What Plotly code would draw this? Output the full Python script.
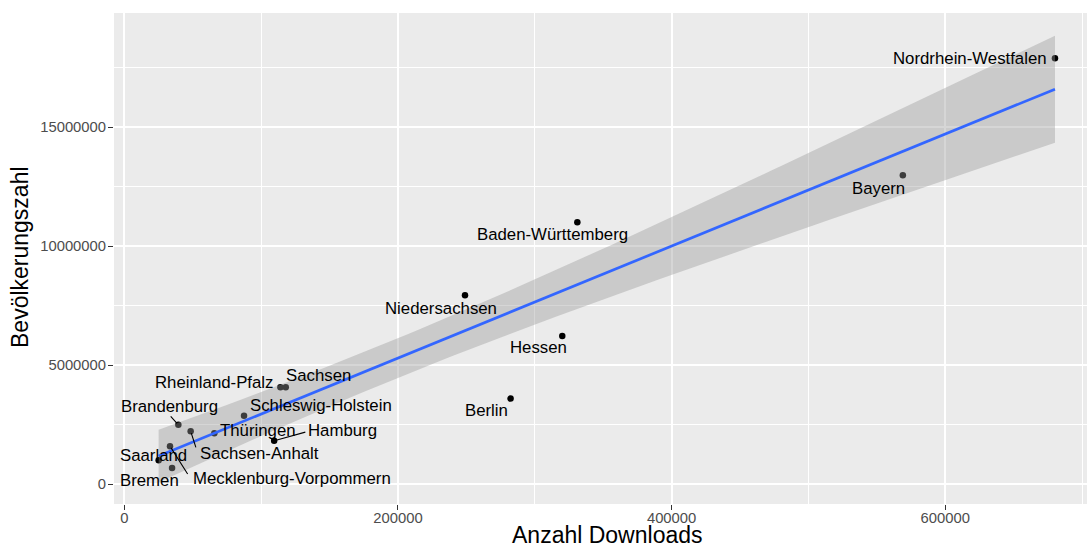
import numpy as np
import plotly.graph_objects as go

# ---- data ----
states = ["Nordrhein-Westfalen", "Bayern", "Baden-Württemberg", "Niedersachsen", "Hessen",
          "Berlin", "Rheinland-Pfalz", "Sachsen", "Schleswig-Holstein", "Brandenburg",
          "Sachsen-Anhalt", "Thüringen", "Hamburg", "Mecklenburg-Vorpommern", "Saarland", "Bremen"]
downloads = [680200, 569000, 331100, 249000, 320100, 282300, 114100, 118000, 87500, 39500,
             48500, 65800, 109500, 33400, 25100, 34900]
population = [17900000, 12980000, 11010000, 7940000, 6230000, 3600000, 4080000, 4080000,
              2880000, 2500000, 2230000, 2140000, 1830000, 1600000, 1010000, 685000]
x_ticks = [0, 200000, 400000, 600000]
y_ticks = [0, 5000000, 10000000, 15000000]

# ---- label placement (pixel offsets of text centre from point; layout only) ----
lab_dx = [-85, -24.5, -24.5, -24.2, -23.8, -24.5, -66.3, 32.5, 77.3, -9.3, 68.8, 43.2, 68.5, 121.7, -4.7, -22.2]
lab_dy = [0.7, 13, 12.7, 13, 11.7, 12.3, -5, -11.3, -10, -18, 22.7, -3.3, -10, 32, -5, 12.7]
# repel segments: pixel offset of segment end from point (None = no segment)
seg_dx = [None, None, None, None, None, None, None, None, None, -9, 5.7, None, 32.7, 18.6, None, None]
seg_dy = [None, None, None, None, None, None, None, None, None, -10, 17.6, None, -9, 29.3, None, None]

# ---- linear model smooth (like geom_smooth(method="lm")) ----
x = np.array(downloads, float)
y = np.array(population, float)
n = len(x)
b1, b0 = np.polyfit(x, y, 1)
resid = y - (b0 + b1 * x)
s = np.sqrt(np.sum(resid ** 2) / (n - 2))
sxx = np.sum((x - x.mean()) ** 2)
t975 = 2.1447866879  # qt(0.975, df=14)
xs = np.linspace(x.min(), x.max(), 80)
fit = b0 + b1 * xs
se = s * np.sqrt(1.0 / n + (xs - x.mean()) ** 2 / sxx)
lo = fit - t975 * se
hi = fit + t975 * se

fig = go.Figure()
fig.add_trace(go.Scatter(x=downloads, y=population, mode="markers",
                         marker=dict(color="black", size=6.5), hoverinfo="text", text=states,
                         showlegend=False))
fig.add_trace(go.Scatter(x=np.concatenate([xs, xs[::-1]]), y=np.concatenate([lo, hi[::-1]]),
                         mode="lines", fill="toself", fillcolor="rgba(153,153,153,0.4)",
                         line=dict(width=0), hoverinfo="skip", showlegend=False))
fig.add_trace(go.Scatter(x=xs, y=fit, mode="lines", line=dict(color="#3366FF", width=2.7),
                         hoverinfo="skip", showlegend=False))

LAB_FONT = dict(family="Liberation Sans, Arial, sans-serif", size=16.8, color="black")
annotations = []
for name, xv, yv, dx, dy, sdx, sdy in zip(states, downloads, population, lab_dx, lab_dy, seg_dx, seg_dy):
    if sdx is not None:
        annotations.append(dict(x=xv, y=yv, xref="x", yref="y", text="", showarrow=True,
                                ax=sdx, ay=sdy, arrowhead=0, arrowwidth=1.1, arrowcolor="black",
                                standoff=2))
    annotations.append(dict(x=xv, y=yv, xref="x", yref="y", text=name, showarrow=False,
                            xshift=dx, yshift=-dy, font=LAB_FONT))

W, H = 1087, 550
L, R, T, B = 114, 0, 13, 46
pw, ph = W - L - R, H - T - B
TITLE_FONT = dict(family="Liberation Sans, Arial, sans-serif", size=23, color="black")
annotations.append(dict(text="Anzahl Downloads", xref="paper", yref="paper",
                        x=(607 - L) / pw, y=(H - B - 535) / ph, xanchor="center", yanchor="middle",
                        showarrow=False, font=TITLE_FONT))
annotations.append(dict(text="Bevölkerungszahl", xref="paper", yref="paper",
                        x=(20 - L) / pw, y=(H - B - 257) / ph, xanchor="center", yanchor="middle",
                        textangle=-90, showarrow=False, font=TITLE_FONT))

TICK_FONT = dict(family="Liberation Sans, Arial, sans-serif", size=14.8, color="#4D4D4D")
fig.update_layout(
    width=W, height=H, margin=dict(l=L, r=R, t=T, b=B, pad=0),
    paper_bgcolor="white", plot_bgcolor="#EBEBEB",
    annotations=annotations, showlegend=False,
    xaxis=dict(range=[-7530, 703600], tickvals=x_ticks, tickformat="d",
               showgrid=True, gridcolor="white", gridwidth=2, zeroline=False,
               minor=dict(tickvals=[100000, 300000, 500000, 700000], showgrid=True,
                          gridcolor="white", gridwidth=1, ticks=""),
               ticks="outside", ticklen=5, tickwidth=1, tickcolor="#333333",
               tickfont=TICK_FONT, showline=False, ticklabelstandoff=-5),
    yaxis=dict(range=[-828000, 19800000], tickvals=y_ticks, tickformat="d",
               showgrid=True, gridcolor="white", gridwidth=2, zeroline=False,
               minor=dict(tickvals=[2500000, 7500000, 12500000, 17500000], showgrid=True,
                          gridcolor="white", gridwidth=1, ticks=""),
               ticks="outside", ticklen=5, tickwidth=1, tickcolor="#333333",
               tickfont=TICK_FONT, showline=False, ticklabelstandoff=-1),
)
fig.write_html("out.html", post_script="document.body.style.margin='0';",
               config={"displayModeBar": False})
